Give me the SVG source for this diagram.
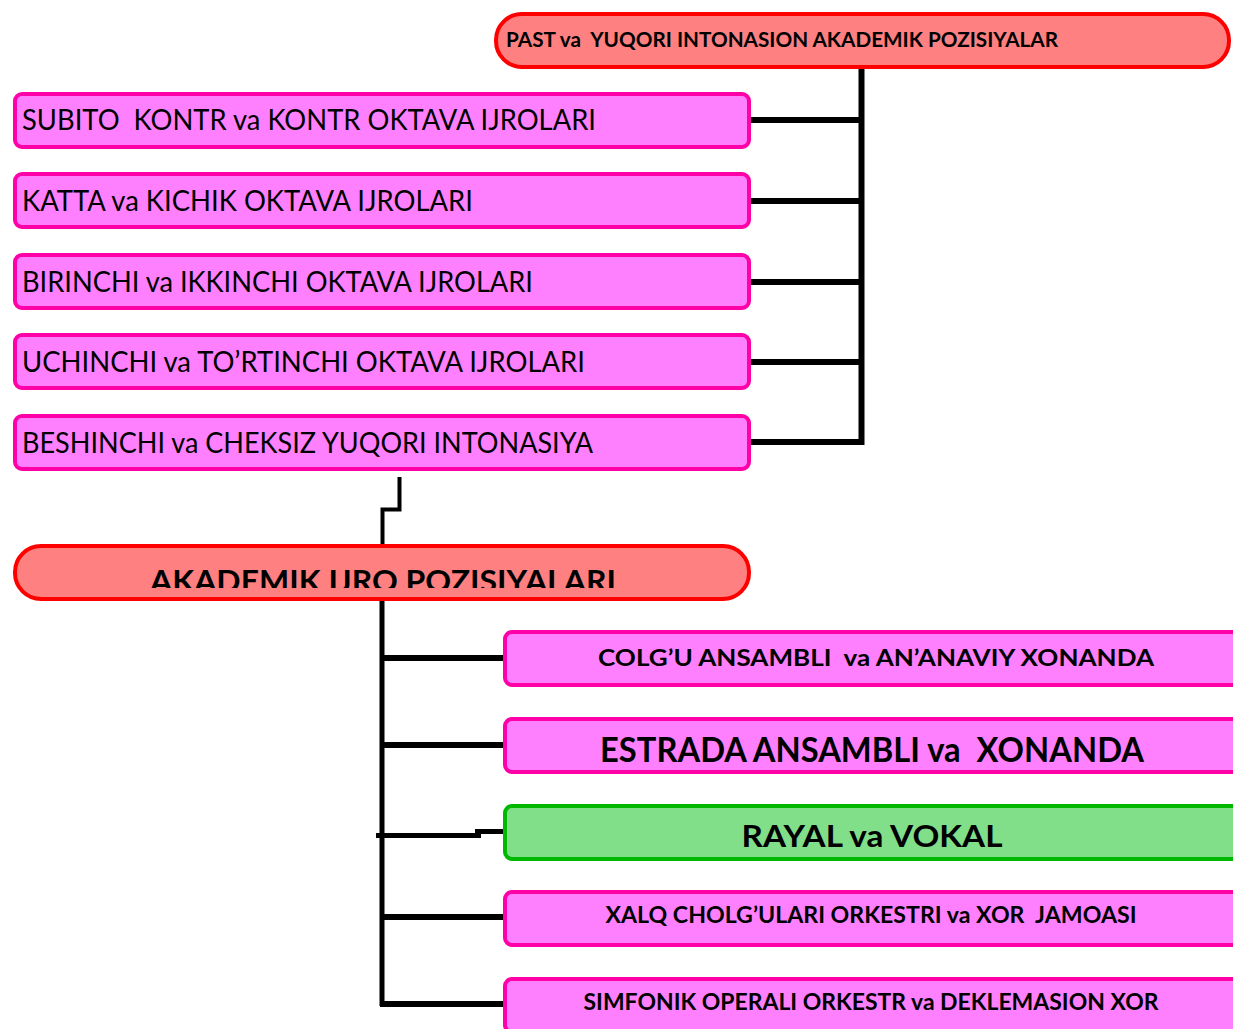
<svg xmlns="http://www.w3.org/2000/svg" width="1233" height="1029" viewBox="0 0 1233 1029">
<style>
.pink{fill:#FF80FF;stroke:#FF00A8;stroke-width:4}
.red{fill:#FF8080;stroke:#FF0000;stroke-width:4}
.green{fill:#80DF88;stroke:#00B800;stroke-width:4}
.t{font-family:Lato,"Open Sans","Liberation Sans",sans-serif;fill:#000}
.r{font-weight:400}
.b{font-weight:700}
.c{text-anchor:middle}
.ln{fill:none;stroke:#000;stroke-linecap:butt}
</style>
<defs>
<clipPath id="clipAk"><rect x="0" y="540" width="800" height="48"/></clipPath>
</defs>
<rect width="1233" height="1029" fill="#fff"/>
<g id="connectors">
<path class="ln" stroke-width="6" d="M861.5 68V445"/>
<path class="ln" stroke-width="6" d="M750 120H864M750 201H864M750 282H864M750 362H864M750 442H864"/>
<path class="ln" stroke-width="4" d="M399.5 477V509.5H382.5V546"/>
<path class="ln" stroke-width="5" d="M382 598V1006"/>
<path class="ln" stroke-width="6" d="M382 658H504M382 745H504M382 917H504M380 1004H504"/>
<path class="ln" stroke-width="5" d="M376 835.5H481"/>
<path class="ln" stroke-width="5" d="M475 831.5H504"/>
</g>
<g id="top">
<rect class="red" x="496" y="14" width="733" height="53" rx="26"/>
<text class="t b" x="506" y="47" font-size="21" textLength="552" lengthAdjust="spacingAndGlyphs" xml:space="preserve">PAST va  YUQORI INTONASION AKADEMIK POZISIYALAR</text>
</g>
<g id="n1">
<rect class="pink" x="15" y="94" width="734" height="53" rx="7"/>
<text class="t r" x="22" y="130" font-size="29" textLength="574" lengthAdjust="spacingAndGlyphs" xml:space="preserve">SUBITO  KONTR va KONTR OKTAVA IJROLARI</text>
</g>
<g id="n2">
<rect class="pink" x="15" y="174" width="734" height="53" rx="7"/>
<text class="t r" x="22" y="211" font-size="29" textLength="451" lengthAdjust="spacingAndGlyphs">KATTA va KICHIK OKTAVA IJROLARI</text>
</g>
<g id="n3">
<rect class="pink" x="15" y="255" width="734" height="53" rx="7"/>
<text class="t r" x="22" y="292" font-size="29" textLength="511" lengthAdjust="spacingAndGlyphs">BIRINCHI va IKKINCHI OKTAVA IJROLARI</text>
</g>
<g id="n4">
<rect class="pink" x="15" y="335" width="734" height="53" rx="7"/>
<text class="t r" x="22" y="372" font-size="29" textLength="563" lengthAdjust="spacingAndGlyphs">UCHINCHI va TO’RTINCHI OKTAVA IJROLARI</text>
</g>
<g id="n5">
<rect class="pink" x="15" y="416" width="734" height="53" rx="7"/>
<text class="t r" x="22" y="453" font-size="29" textLength="571" lengthAdjust="spacingAndGlyphs">BESHINCHI va CHEKSIZ YUQORI INTONASIYA</text>
</g>
<g id="akademik">
<rect class="red" x="15" y="546" width="734" height="53" rx="26"/>
<text class="t b c" x="383" y="592" font-size="31" textLength="466" lengthAdjust="spacingAndGlyphs" clip-path="url(#clipAk)">AKADEMIK IJRO POZISIYALARI</text>
</g>
<g id="r1">
<rect class="pink" x="505" y="632" width="760" height="53" rx="7"/>
<text class="t b c" x="876" y="666" font-size="23" textLength="556" lengthAdjust="spacingAndGlyphs" xml:space="preserve">COLG’U ANSAMBLI  va AN’ANAVIY XONANDA</text>
</g>
<g id="r2">
<rect class="pink" x="505" y="719" width="760" height="53" rx="7"/>
<text class="t b c" x="872" y="762" font-size="34" textLength="544" lengthAdjust="spacingAndGlyphs" xml:space="preserve">ESTRADA ANSAMBLI va  XONANDA</text>
</g>
<g id="r3">
<rect class="green" x="505" y="806" width="760" height="53" rx="7"/>
<text class="t b c" x="872" y="847" font-size="31" textLength="261" lengthAdjust="spacingAndGlyphs">RAYAL va VOKAL</text>
</g>
<g id="r4">
<rect class="pink" x="505" y="892" width="760" height="53" rx="7"/>
<text class="t b c" x="871" y="923" font-size="22" textLength="531" lengthAdjust="spacingAndGlyphs" xml:space="preserve">XALQ CHOLG’ULARI ORKESTRI va XOR  JAMOASI</text>
</g>
<g id="r5">
<rect class="pink" x="505" y="979" width="760" height="53" rx="7"/>
<text class="t b c" x="871" y="1010" font-size="23" textLength="575" lengthAdjust="spacingAndGlyphs">SIMFONIK OPERALI ORKESTR va DEKLEMASION XOR</text>
</g>
</svg>
